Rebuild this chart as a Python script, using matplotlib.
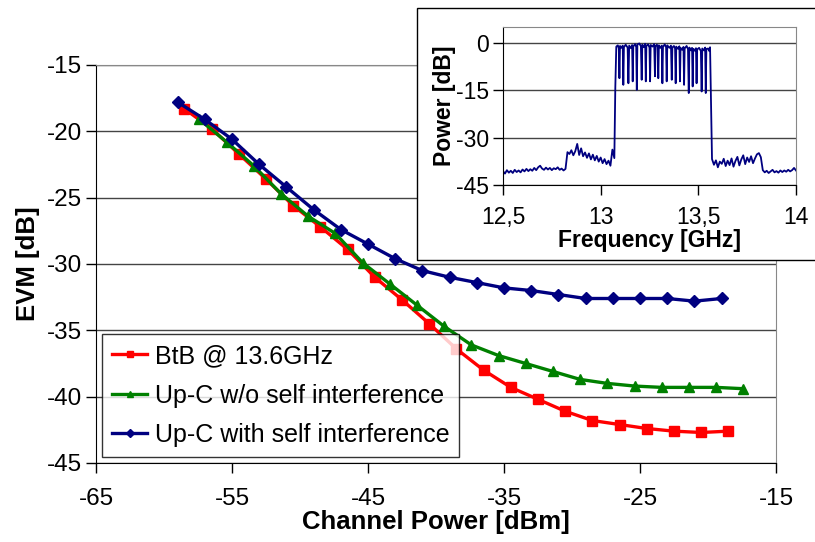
import numpy as np
import matplotlib
matplotlib.use("Agg")
import matplotlib.pyplot as plt
from matplotlib.patches import Rectangle

plt.rcParams['font.family'] = ['Liberation Sans', 'DejaVu Sans']
plt.rcParams['axes.unicode_minus'] = False

# main chart: EVM vs channel power
red_x = [-58.5, -56.5, -54.5, -52.5, -50.5, -48.5, -46.5, -44.5, -42.5, -40.5, -38.5,
         -36.5, -34.5, -32.5, -30.5, -28.5, -26.5, -24.5, -22.5, -20.5, -18.5]
red_y = [-18.3, -19.8, -21.7, -23.6, -25.6, -27.2, -28.9, -31.0, -32.7, -34.5, -36.4,
         -38.0, -39.3, -40.2, -41.1, -41.8, -42.1, -42.4, -42.6, -42.7, -42.6]

green_x = [-57.4, -55.4, -53.4, -51.4, -49.4, -47.4, -45.4, -43.4, -41.4, -39.4, -37.4,
           -35.4, -33.4, -31.4, -29.4, -27.4, -25.4, -23.4, -21.4, -19.4, -17.4]
green_y = [-19.1, -20.8, -22.6, -24.7, -26.4, -27.7, -29.9, -31.5, -33.1, -34.7, -36.1,
           -36.9, -37.5, -38.1, -38.7, -39.0, -39.2, -39.3, -39.3, -39.3, -39.4]

blue_x = [-59, -57, -55, -53, -51, -49, -47, -45, -43, -41, -39,
          -37, -35, -33, -31, -29, -27, -25, -23, -21, -19]
blue_y = [-17.8, -19.1, -20.6, -22.5, -24.2, -25.9, -27.4, -28.5, -29.6, -30.5, -31.0,
          -31.4, -31.8, -32.0, -32.3, -32.6, -32.6, -32.6, -32.6, -32.8, -32.6]

labels = ["BtB @ 13.6GHz", "Up-C w/o self interference", "Up-C with self interference"]

# inset: spectrum
floor_lo_f = [12.50, 12.51, 12.52, 12.53, 12.54, 12.55, 12.56, 12.57, 12.58, 12.59,
              12.60, 12.61, 12.62, 12.63, 12.64, 12.65, 12.66, 12.67, 12.68, 12.69,
              12.70, 12.71, 12.72, 12.73, 12.74, 12.75, 12.76, 12.77, 12.78, 12.79,
              12.80, 12.81, 12.82, 12.83, 12.84, 12.85, 12.86, 12.87, 12.88, 12.89,
              12.90, 12.91, 12.92, 12.93, 12.94, 12.95, 12.96, 12.97, 12.98, 12.99,
              13.00, 13.01, 13.02, 13.03, 13.04, 13.05, 13.06, 13.07]
floor_lo_p = [-40.6, -41.4, -40.3, -41.1, -40.5, -41.2, -40.2, -40.9, -40.4, -41.0,
              -40.1, -40.7, -39.9, -40.6, -40.0, -40.5, -39.6, -40.3, -39.4, -38.9,
              -39.8, -40.2, -39.5, -40.1, -39.6, -40.3, -39.7, -40.0, -39.4, -40.2,
              -39.8, -40.4, -39.9, -34.6, -35.2, -34.0, -35.6, -34.3, -32.0, -35.5,
              -33.4, -35.9, -34.7, -36.4, -35.0, -36.9, -35.4, -37.2, -35.8, -37.6,
              -36.3, -38.1, -36.8, -38.4, -37.3, -38.9, -33.8, -36.5]

band_f = [13.075, 13.080, 13.088, 13.093, 13.096, 13.099, 13.107, 13.113, 13.116, 13.119,
          13.128, 13.138, 13.142, 13.146, 13.155, 13.161, 13.164, 13.167, 13.176, 13.182,
          13.185, 13.188, 13.198, 13.206, 13.210, 13.213, 13.221, 13.228, 13.231, 13.234,
          13.243, 13.250, 13.253, 13.256, 13.266, 13.274, 13.278, 13.281, 13.288, 13.292,
          13.295, 13.298, 13.306, 13.313, 13.316, 13.319, 13.328, 13.335, 13.338, 13.341,
          13.352, 13.360, 13.364, 13.367, 13.375, 13.381, 13.384, 13.387, 13.396, 13.403,
          13.406, 13.409, 13.417, 13.424, 13.427, 13.430, 13.440, 13.447, 13.451, 13.454,
          13.462, 13.468, 13.471, 13.474, 13.482, 13.488, 13.491, 13.494, 13.504, 13.513,
          13.517, 13.520, 13.529, 13.535, 13.538, 13.541, 13.550, 13.556, 13.560, 13.565]
band_p = [-14.0, -1.2, -0.8, -1.8, -11.2, -1.0, -1.6, -0.9, -13.3, -1.4,
          -0.6, -1.5, -12.8, -0.9, -1.7, -0.7, -12.2, -1.2, -0.4, -1.3,
          -14.9, -0.5, -0.2, -1.1, -11.7, -0.6, -1.4, -0.3, -12.2, -1.0,
          -0.5, -1.5, -12.2, -0.7, -1.2, -0.4, -10.6, -1.1, -0.6, -1.4,
          -11.2, -0.8, -1.6, -0.9, -12.8, -1.3, -0.5, -1.4, -12.2, -0.8,
          -1.6, -0.9, -11.7, -1.5, -1.0, -1.8, -12.8, -1.2, -1.9, -1.1,
          -12.2, -1.6, -2.2, -1.3, -13.3, -1.8, -1.0, -2.0, -15.9, -1.5,
          -2.4, -1.6, -13.8, -1.9, -2.5, -1.7, -12.8, -2.1, -1.6, -2.6,
          -15.4, -1.8, -2.4, -1.5, -15.9, -2.0, -1.8, -2.6, -1.4, -20.0]

floor_hi_f = [13.57, 13.58, 13.59, 13.60, 13.61, 13.62, 13.63, 13.64, 13.65, 13.66,
              13.67, 13.68, 13.69, 13.70, 13.71, 13.72, 13.73, 13.74, 13.75, 13.76,
              13.77, 13.78, 13.79, 13.80, 13.81, 13.82, 13.83, 13.84, 13.85, 13.86,
              13.87, 13.88, 13.89, 13.90, 13.91, 13.92, 13.93, 13.94, 13.95, 13.96,
              13.97, 13.98, 13.99, 14.00]
floor_hi_p = [-36.8, -38.6, -37.2, -39.4, -37.6, -38.3, -36.7, -39.0, -37.3, -38.7,
              -36.6, -39.2, -37.4, -36.1, -38.8, -36.9, -35.6, -38.4, -36.3, -37.7,
              -35.9, -38.1, -36.6, -35.3, -34.9, -36.2, -40.3, -41.0, -40.5, -41.2,
              -40.7, -40.2, -41.0, -40.6, -41.1, -40.4, -40.9, -40.4, -40.8, -40.2,
              -40.7, -40.3, -39.6, -40.4]

fig = plt.figure(figsize=(8.15, 5.42), dpi=100)
ax = fig.add_axes([96 / 815, 79 / 542, 680 / 815, 398 / 542])

ax.plot(red_x, red_y, color='#ff0000', lw=2.4, marker='s', ms=7, label=labels[0])
ax.plot(green_x, green_y, color='#008000', lw=2.4, marker='^', ms=7, label=labels[1])
ax.plot(blue_x, blue_y, color='#000080', lw=2.4, marker='D', ms=6, label=labels[2])

ax.set_xlim(-65, -15)
ax.set_ylim(-45, -15)
ax.set_xticks(np.arange(-65, -14, 10))
ax.set_yticks(np.arange(-45, -14, 5))
ax.yaxis.grid(True, color='#444444', lw=1)
ax.set_axisbelow(True)
for s in ['top', 'right']:
    ax.spines[s].set_color('#888888')
for s in ['left', 'bottom']:
    ax.spines[s].set_color('black')
ax.tick_params(axis='both', direction='out', length=7, width=1, labelsize=17.5)
ax.tick_params(axis='x', pad=11)
ax.tick_params(axis='y', pad=3)
ax.set_xlabel("Channel Power [dBm]", fontsize=18.5, fontweight='bold', labelpad=0)
ax.set_ylabel("EVM [dB]", fontsize=18.5, fontweight='bold', labelpad=5)

leg = ax.legend(loc='lower left', bbox_to_anchor=(0.009, 0.015), borderaxespad=0,
                fontsize=18, frameon=True, fancybox=False, edgecolor='black',
                handlelength=1.4, handletextpad=0.3, labelspacing=0.62,
                markerscale=0.7, borderpad=0.4)
leg.get_frame().set_linewidth(1)
leg.set_zorder(10)

# inset frame box
fig.add_artist(Rectangle((417 / 815, (542 - 260) / 542), 1.0, (260 - 8) / 542,
                         transform=fig.transFigure, facecolor='white',
                         edgecolor='black', lw=1, zorder=1))

ins = fig.add_axes([503 / 815, (542 - 185) / 542, 293 / 815, 158 / 542], zorder=2)
spec_f = floor_lo_f + band_f + floor_hi_f
spec_p = floor_lo_p + band_p + floor_hi_p
ins.plot(spec_f, spec_p, color='#000080', lw=1.3)
ins.set_xlim(12.5, 14)
ins.set_ylim(-45, 5)
ins.set_xticks([12.5, 13, 13.5, 14])
ins.set_xticklabels(["12,5", "13", "13,5", "14"])
ins.set_yticks([-45, -30, -15, 0])
ins.yaxis.grid(True, color='#444444', lw=1)
ins.set_axisbelow(True)
for s in ['top', 'right']:
    ins.spines[s].set_color('#888888')
ins.tick_params(axis='both', direction='out', length=7, width=1, labelsize=16.5)
ins.tick_params(axis='x', pad=8)
ins.tick_params(axis='y', pad=3)
ins.set_xlabel("Frequency [GHz]", fontsize=16.5, fontweight='bold', labelpad=0)
ins.set_ylabel("Power [dB]", fontsize=16.5, fontweight='bold', labelpad=0)

fig.savefig("out.png", dpi=100)
